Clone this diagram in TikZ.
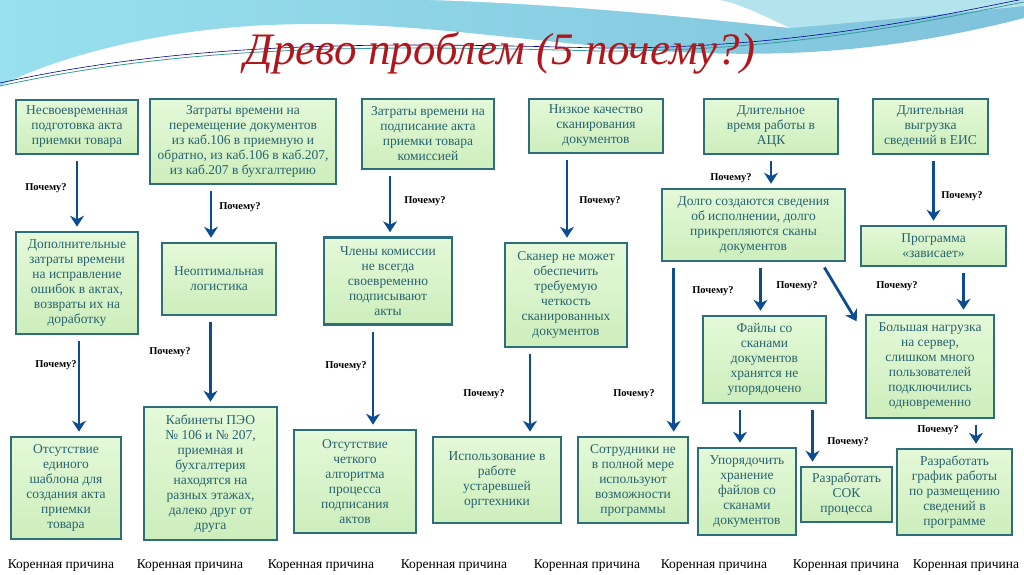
\documentclass[tikz,border=0pt]{standalone}
\usepackage{fontspec}
\setmainfont{Liberation Serif}
\usepackage{tikz}
\usetikzlibrary{arrows.meta, positioning, calc}
\definecolor{pborder}{HTML}{2E6E7B}
\definecolor{ptext}{HTML}{27636F}
\definecolor{pfilltop}{HTML}{E4F9D8}
\definecolor{pfillbot}{HTML}{CDEEBC}
\definecolor{parrow}{HTML}{0E4C92}
\definecolor{ptitle}{HTML}{B0171C}
\definecolor{pskyA}{HTML}{7FC2DB}
\definecolor{pskyB}{HTML}{98E0EE}
\definecolor{pskyC}{HTML}{B3E3EC}
\tikzset{
  probbox/.style={draw=pborder, top color=pfilltop, bottom color=pfillbot,
                  line width=2.6pt, align=center, text=ptext, inner sep=2pt,
                  font=\fontsize{13.5}{15}\selectfont},
  why/.style={font=\fontsize{10.5}{12}\selectfont\bfseries},
  rootlbl/.style={font=\fontsize{13.5}{16}\selectfont},
  whyarrow/.style={-{Stealth[length=11pt, width=14pt]}, parrow, line width=2.8pt,
                   shorten <=6pt, shorten >=4pt},
}

\begin{document}
\begin{tikzpicture}[x=1pt, y=-1pt]
  \useasboundingbox (0,0) rectangle (1024,574);

  %% background swooshes
  \shade[left color=pskyB, right color=pskyA]
    (0,0) -- (1024,0) -- (1024,18) .. controls (900,50) and (780,62) .. (620,48)
    .. controls (480,36) and (380,18) .. (250,26) .. controls (130,34) and (40,65) .. (0,86) -- cycle;
  \fill[pskyC] (720,0) -- (1024,0) -- (1024,6) .. controls (950,14) and (860,22) .. (790,28)
    .. controls (760,14) and (740,4) .. (720,0) -- cycle;
  \fill[white] (430,0) -- (720,0) .. controls (740,4) and (760,14) .. (790,28)
    .. controls (680,16) and (560,4) .. (430,0) -- cycle;
  \draw[teal!80, line width=0.8pt] (0,86) .. controls (200,42) and (400,46) .. (600,51)
    .. controls (800,52) and (950,16) .. (1024,2);
  \draw[blue!60!black, line width=0.6pt] (0,83) .. controls (200,39) and (400,43) .. (600,48)
    .. controls (800,49) and (950,13) .. (1024,-1);

  %% title
  \node[text=ptitle, font=\fontsize{45}{50}\selectfont\itshape] (title) at (500,53)
    {Древо проблем (5 почему?)};

  %% top row
  \node[probbox, minimum width=122pt, minimum height=54pt] (t1) at (77,127)
    {Несвоевременная\\подготовка акта\\приемки товара};
  \node[probbox, minimum width=186pt, minimum height=85pt] (t2) at (243,141.5)
    {Затраты времени на\\перемещение документов\\из каб.106 в приемную и\\обратно, из каб.106 в каб.207,\\из каб.207 в бухгалтерию};
  \node[probbox, minimum width=132pt, minimum height=70pt] (t3) at (428,134)
    {Затраты времени на\\подписание акта\\приемки товара\\комиссией};
  \node[probbox, minimum width=134pt, minimum height=54pt] (t4) at (596,126)
    {Низкое качество\\сканирования\\документов};
  \node[probbox, minimum width=134pt, minimum height=55pt] (t5) at (771,126.5)
    {Длительное\\время работы в\\АЦК};
  \node[probbox, minimum width=115pt, minimum height=55pt] (t6) at (930.5,126.5)
    {Длительная\\выгрузка\\сведений в ЕИС};

  %% second row
  \node[probbox, minimum width=122pt, minimum height=102pt] (a1) at (77,283)
    {Дополнительные\\затраты времени\\на исправление\\ошибок в актах,\\возвраты их на\\доработку};
  \node[probbox, minimum width=114pt, minimum height=72pt] (b1) at (219,279)
    {Неоптимальная\\логистика};
  \node[probbox, minimum width=128pt, minimum height=87pt] (c1) at (388,281)
    {Члены комиссии\\не всегда\\своевременно\\подписывают\\акты};
  \node[probbox, minimum width=122pt, minimum height=104pt] (d1) at (566,295)
    {Сканер не может\\обеспечить\\требуемую\\четкость\\сканированных\\документов};
  \node[probbox, minimum width=183pt, minimum height=72pt] (e1) at (753.5,225)
    {Долго создаются сведения\\об исполнении, долго\\прикрепляются сканы\\документов};
  \node[probbox, minimum width=145pt, minimum height=40pt] (f1) at (933.5,246)
    {Программа\\«зависает»};

  %% third row
  \node[probbox, minimum width=123pt, minimum height=87pt] (e2) at (764.5,359.5)
    {Файлы со\\сканами\\документов\\хранятся не\\упорядочено};
  \node[probbox, minimum width=128pt, minimum height=103pt] (f2) at (930,366.5)
    {Большая нагрузка\\на сервер,\\слишком много\\пользователей\\подключились\\одновременно};

  %% root causes
  \node[probbox, minimum width=110pt, minimum height=102pt] (a2) at (66,488)
    {Отсутствие\\единого\\шаблона для\\создания акта\\приемки\\товара};
  \node[probbox, minimum width=133pt, minimum height=133pt] (b2) at (210.5,473.5)
    {Кабинеты ПЭО\\№ 106 и № 207,\\приемная и\\бухгалтерия\\находятся на\\разных этажах,\\далеко друг от\\друга};
  \node[probbox, minimum width=122pt, minimum height=103pt] (c2) at (355,481.5)
    {Отсутствие\\четкого\\алгоритма\\процесса\\подписания\\актов};
  \node[probbox, minimum width=128pt, minimum height=86pt] (d2) at (497,480)
    {Использование в\\работе\\устаревшей\\оргтехники};
  \node[probbox, minimum width=110pt, minimum height=86pt] (e0) at (633,480)
    {Сотрудники не\\в полной мере\\используют\\возможности\\программы};
  \node[probbox, minimum width=98pt, minimum height=87pt] (e3) at (747,491.5)
    {Упорядочить\\хранение\\файлов со\\сканами\\документов};
  \node[probbox, minimum width=91pt, minimum height=55pt] (e4) at (846.5,494.5)
    {Разработать\\СОК\\процесса};
  \node[probbox, minimum width=115pt, minimum height=86pt] (f3) at (954.5,492)
    {Разработать\\график работы\\по размещению\\сведений в\\программе};

  %% arrows
  \draw[whyarrow] (t1.south) -- (a1.north);
  \draw[whyarrow] ([xshift=2pt]a1.south) -- ([xshift=2pt]a1.south |- a2.north);
  \draw[whyarrow] ([xshift=-8pt]b1.north |- t2.south) -- ([xshift=-8pt]b1.north);
  \draw[whyarrow] (b2.north |- b1.south) -- (b2.north);
  \draw[whyarrow] ([xshift=2pt]c1.north |- t3.south) -- ([xshift=2pt]c1.north);
  \draw[whyarrow] ([xshift=-15pt]c1.south) -- ([xshift=-15pt]c1.south |- c2.north);
  \draw[whyarrow] ([xshift=1pt]d1.north |- t4.south) -- ([xshift=1pt]d1.north);
  \draw[whyarrow] ([xshift=-36pt]d1.south) -- ([xshift=-36pt]d1.south |- d2.north);
  \draw[whyarrow] (t5.south) -- (t5.south |- e1.north);
  \draw[whyarrow] ([xshift=13pt]e1.south west) -- ([xshift=13pt]e1.south west |- e0.north);
  \draw[whyarrow] ([xshift=-4pt]e2.north |- e1.south) -- ([xshift=-4pt]e2.north);
  \draw[whyarrow] ([xshift=-25pt]e1.south east) -- ([xshift=-6pt, yshift=-11pt]f2.north west);
  \draw[whyarrow] (f1.north |- t6.south) -- (f1.north);
  \draw[whyarrow] ([xshift=30pt]f1.south) -- ([xshift=30pt]f1.south |- f2.north);
  \draw[whyarrow] ([xshift=-7pt]e3.north |- e2.south) -- ([xshift=-7pt]e3.north);
  \draw[whyarrow] ([xshift=48pt]e2.south) -- ([xshift=48pt]e2.south |- e4.north);
  \draw[whyarrow] ([xshift=46pt]f2.south) -- ([xshift=46pt]f2.south |- f3.north);

  %% "why" labels
  \node[why] (w1) at (46,188) {Почему?};
  \node[why] (w2) at (56,365) {Почему?};
  \node[why] (w3) at (240,207) {Почему?};
  \node[why] (w4) at (170,352) {Почему?};
  \node[why] (w5) at (425,201) {Почему?};
  \node[why] (w6) at (346,366) {Почему?};
  \node[why] (w7) at (600,201) {Почему?};
  \node[why] (w8) at (484,394) {Почему?};
  \node[why] (w9) at (731,178) {Почему?};
  \node[why] (w10) at (634,394) {Почему?};
  \node[why] (w11) at (713,291) {Почему?};
  \node[why] (w12) at (797,286) {Почему?};
  \node[why] (w13) at (962,196) {Почему?};
  \node[why] (w14) at (897,286) {Почему?};
  \node[why] (w15) at (848,442) {Почему?};
  \node[why] (w16) at (938,430) {Почему?};

  %% root cause captions
  \node[rootlbl] (r1) at (61,566) {Коренная причина};
  \node[rootlbl] (r2) at (190,566) {Коренная причина};
  \node[rootlbl] (r3) at (321,566) {Коренная причина};
  \node[rootlbl] (r4) at (454,566) {Коренная причина};
  \node[rootlbl] (r5) at (587,566) {Коренная причина};
  \node[rootlbl] (r6) at (714,566) {Коренная причина};
  \node[rootlbl] (r7) at (846,566) {Коренная причина};
  \node[rootlbl] (r8) at (966,566) {Коренная причина};

\end{tikzpicture}
\end{document}
